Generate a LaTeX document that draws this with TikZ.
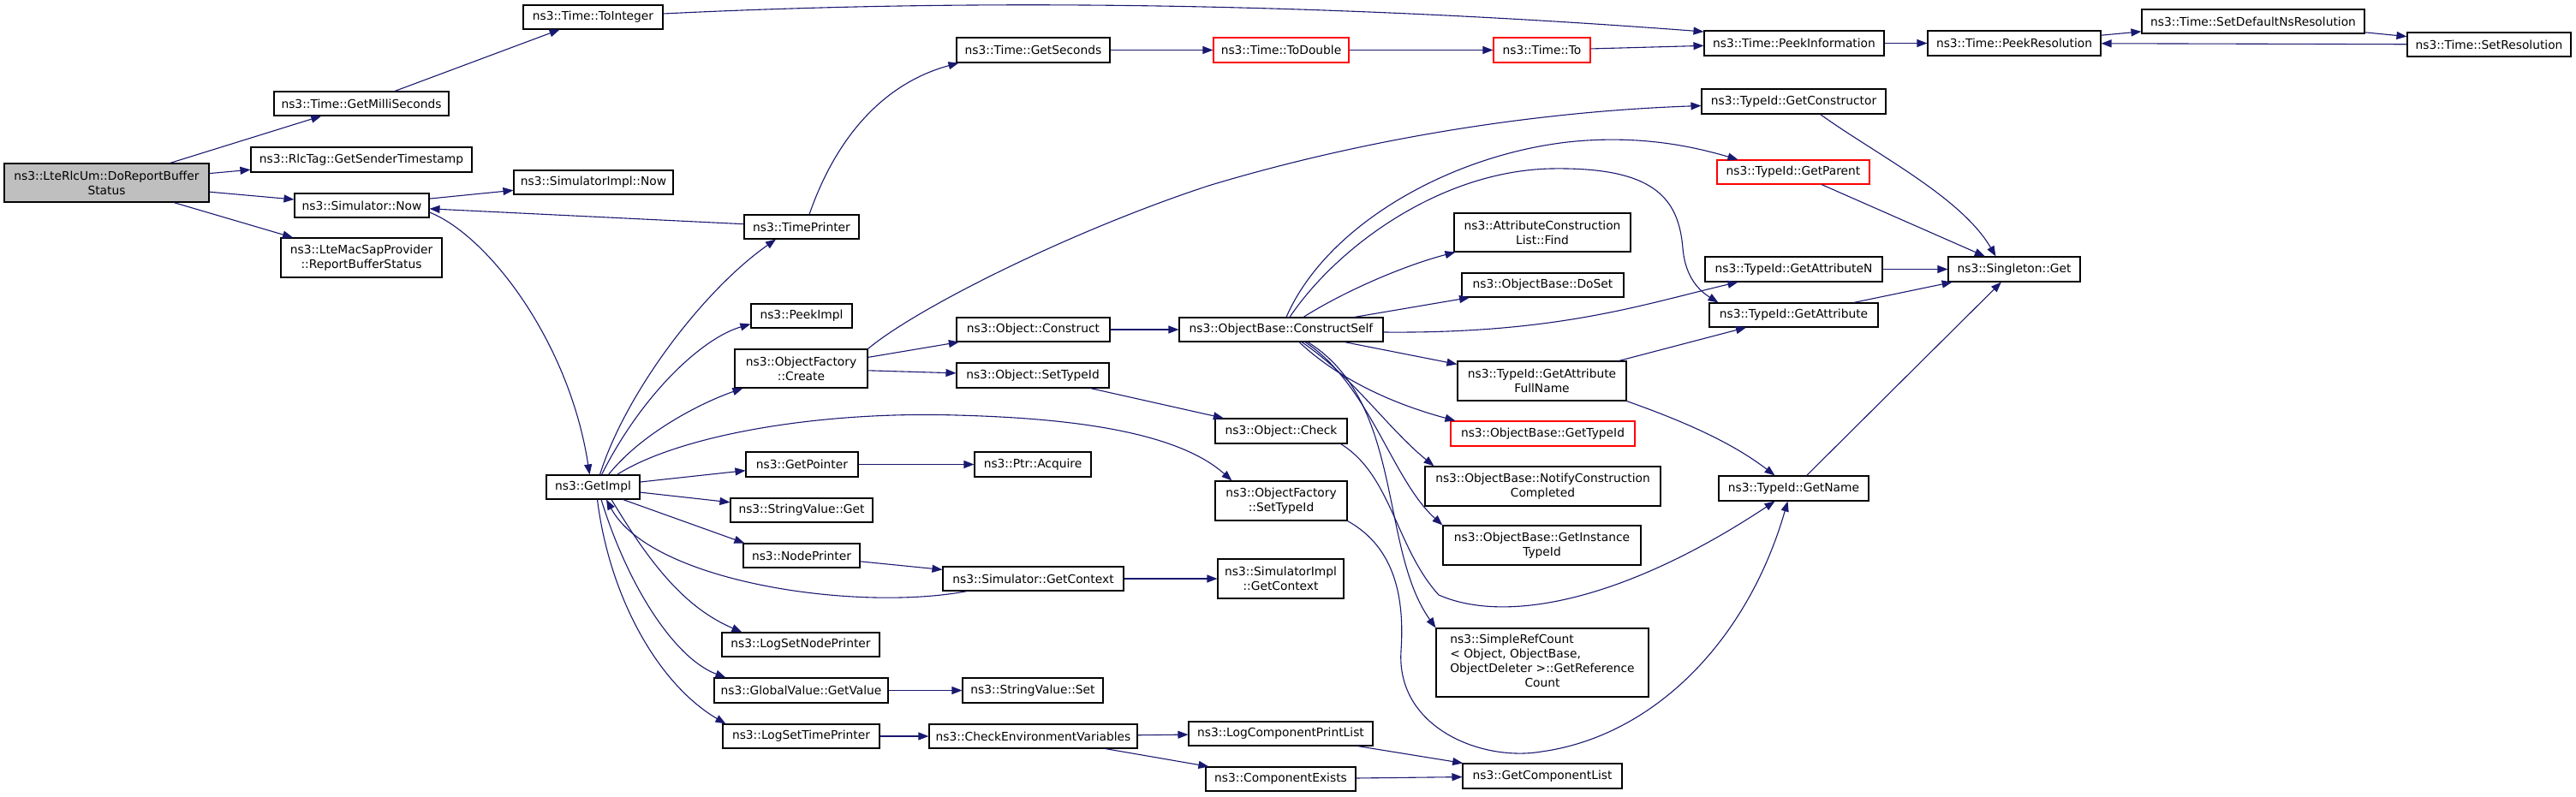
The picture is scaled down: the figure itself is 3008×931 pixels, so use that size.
\documentclass[tikz,border=0pt]{standalone}
\usepackage{fontspec}
\setmainfont{DejaVu Sans}
\usetikzlibrary{arrows.meta,calc}
\definecolor{edgec}{HTML}{191970}
\definecolor{grayfill}{HTML}{BFBFBF}
\begin{document}
\begin{tikzpicture}[x=1pt,y=-1pt,
  box/.style={draw=black,line width=1.1pt,inner sep=0pt,align=center,font=\fontsize{13.8}{17}\selectfont},
  redbox/.style={box,draw=red},
  wh/.style 2 args={minimum width=#1pt,minimum height=#2pt},
  e/.style={draw=edgec,line width=1.1pt,-{Triangle[length=12pt,width=9pt]}}]
\useasboundingbox (0,0) rectangle (3008,931);
% nodes
\node[box,fill=grayfill,wh={239}{45}] (dorep) at (124.5,213.5) {ns3::LteRlcUm::DoReportBuffer\\Status};
\node[box,wh={204}{28}] (getms) at (422,121) {ns3::Time::GetMilliSeconds};
\node[box,wh={163}{28}] (toint) at (692.5,20) {ns3::Time::ToInteger};
\node[box,wh={258}{29}] (rlctag) at (422,186.5) {ns3::RlcTag::GetSenderTimestamp};
\node[box,wh={186}{28}] (simimplnow) at (693,213) {ns3::SimulatorImpl::Now};
\node[box,wh={157}{28}] (simnow) at (422.5,240) {ns3::Simulator::Now};
\node[box,wh={188}{46}] (lmsp) at (422,301) {ns3::LteMacSapProvider\\::ReportBufferStatus};
\node[box,wh={134}{28}] (timeprinter) at (936,265) {ns3::TimePrinter};
\node[box,wh={118}{28}] (peekimpl) at (936,369) {ns3::PeekImpl};
\node[box,wh={155}{45}] (create) at (935.5,430.5) {ns3::ObjectFactory\\::Create};
\node[box,wh={109}{28}] (getimpl) at (692.5,569) {ns3::GetImpl};
\node[box,wh={131}{29}] (getpointer) at (936.5,542.5) {ns3::GetPointer};
\node[box,wh={166}{28}] (strget) at (936,596) {ns3::StringValue::Get};
\node[box,wh={136}{28}] (nodeprinter) at (936,649) {ns3::NodePrinter};
\node[box,wh={184}{28}] (logsetnode) at (935,753) {ns3::LogSetNodePrinter};
\node[box,wh={203}{29}] (gvget) at (935.5,806.5) {ns3::GlobalValue::GetValue};
\node[box,wh={183}{28}] (logsettime) at (935.5,860) {ns3::LogSetTimePrinter};
\node[box,wh={179}{29}] (getseconds) at (1206.5,58.5) {ns3::Time::GetSeconds};
\node[redbox,wh={158}{29}] (todouble) at (1496,58.5) {ns3::Time::ToDouble};
\node[redbox,wh={113}{29}] (to) at (1800.5,58.5) {ns3::Time::To};
\node[box,wh={179}{28}] (construct) at (1206.5,385) {ns3::Object::Construct};
\node[box,wh={178}{29}] (settypeid) at (1206,438.5) {ns3::Object::SetTypeId};
\node[box,wh={136}{29}] (ptracq) at (1206,542.5) {ns3::Ptr::Acquire};
\node[box,wh={211}{28}] (simgetctx) at (1206.5,676) {ns3::Simulator::GetContext};
\node[box,wh={164}{29}] (strset) at (1206,806.5) {ns3::StringValue::Set};
\node[box,wh={243}{28}] (checkenv) at (1206.5,860) {ns3::CheckEnvironmentVariables};
\node[box,wh={238}{28}] (constructself) at (1496,385) {ns3::ObjectBase::ConstructSelf};
\node[box,wh={154}{29}] (check) at (1496,503.5) {ns3::Object::Check};
\node[box,wh={154}{46}] (ofsettypeid) at (1496,585) {ns3::ObjectFactory\\::SetTypeId};
\node[box,wh={147}{46}] (simimplctx) at (1495.5,676) {ns3::SimulatorImpl\\::GetContext};
\node[box,wh={215}{28}] (logcpl) at (1495.5,857) {ns3::LogComponentPrintList};
\node[box,wh={175}{28}] (compexists) at (1495.5,910) {ns3::ComponentExists};
\node[box,wh={206}{45}] (find) at (1801,271.5) {ns3::AttributeConstruction\\List::Find};
\node[box,wh={189}{28}] (doset) at (1801.5,333) {ns3::ObjectBase::DoSet};
\node[box,wh={197}{46}] (getattrfull) at (1800.5,445) {ns3::TypeId::GetAttribute\\FullName};
\node[redbox,wh={215}{29}] (obgettypeid) at (1801.5,506.5) {ns3::ObjectBase::GetTypeId};
\node[box,wh={275}{46}] (notify) at (1801.5,568) {ns3::ObjectBase::NotifyConstruction\\Completed};
\node[box,wh={231}{46}] (getinst) at (1800.5,637) {ns3::ObjectBase::GetInstance\\TypeId};
\node[box,wh={248}{80}] (simpleref) at (1801,774) {\begin{tabular}{@{}l@{}}ns3::SimpleRefCount\\< Object, ObjectBase,\\\multicolumn{1}{@{}c@{}}{ObjectDeleter >::GetReference}\\\multicolumn{1}{@{}c@{}}{Count}\end{tabular}};
\node[box,wh={186}{29}] (getcomplist) at (1801,906.5) {ns3::GetComponentList};
\node[box,wh={210}{29}] (peekinfo) at (2095,50.5) {ns3::Time::PeekInformation};
\node[box,wh={215}{29}] (getctor) at (2094.5,118.5) {ns3::TypeId::GetConstructor};
\node[redbox,wh={178}{28}] (getparent) at (2094,201) {ns3::TypeId::GetParent};
\node[box,wh={207}{29}] (getattrn) at (2094.5,314.5) {ns3::TypeId::GetAttributeN};
\node[box,wh={197}{28}] (getattr) at (2094.5,368) {ns3::TypeId::GetAttribute};
\node[box,wh={175}{29}] (getname) at (2094.5,570.5) {ns3::TypeId::GetName};
\node[box,wh={202}{29}] (peekres) at (2352,50.5) {ns3::Time::PeekResolution};
\node[box,wh={154}{29}] (singleton) at (2352,314.5) {ns3::Singleton::Get};
\node[box,wh={260}{28}] (setdefns) at (2631,25) {ns3::Time::SetDefaultNsResolution};
\node[box,wh={191}{28}] (setres) at (2906.5,52) {ns3::Time::SetResolution};
% straight edges
\draw[e] (dorep) -- (getms);
\draw[e] (dorep) -- (rlctag);
\draw[e] (dorep) -- (simnow);
\draw[e] (dorep) -- (lmsp);
\draw[e] (getms) -- (toint);
\draw[e] (simnow) -- (simimplnow);
\draw[e] (timeprinter) -- (simnow);
\draw[e] (getimpl) -- (getpointer);
\draw[e] (getimpl) -- (strget);
\draw[e] ($(getimpl.south)+(35,0)$) -- ($(nodeprinter.north west)+(2,0)$);
\draw[e] (nodeprinter) -- (simgetctx);
\draw[e] (simgetctx) -- (simimplctx);
\draw[e] (getpointer) -- (ptracq);
\draw[e] (gvget) -- (strset);
\draw[e] (logsettime) -- (checkenv);
\draw[e] (checkenv) -- (logcpl);
\draw[e] (checkenv) -- (compexists);
\draw[e] (logcpl) -- (getcomplist);
\draw[e] (compexists) -- (getcomplist);
\draw[e] (getseconds) -- (todouble);
\draw[e] (todouble) -- (to);
\draw[e] (to) -- (peekinfo);
\draw[e] (peekinfo) -- (peekres);
\draw[e] (peekres) -- (setdefns);
\draw[e] (setdefns) -- (setres);
\draw[e] (setres) -- (peekres);
\draw[e] (create) -- (construct);
\draw[e] (create) -- (settypeid);
\draw[e] (construct) -- (constructself);
\draw[e] (settypeid) -- (check);
\draw[e] (constructself) -- (doset);
\draw[e] (constructself) -- (getattrfull);
\draw[e] (getattrfull) -- (getattr);
\draw[e] (getparent) -- (singleton);
\draw[e] (getattrn) -- (singleton);
\draw[e] (getattr) -- (singleton);
\draw[e] (getname) -- (singleton);
% curved edges
\draw[e] ($(simnow.east)+(0,8)$) .. controls (570,275) and (665,400) .. ($(getimpl.north)+(-4,0)$);
\draw[e] ($(getimpl.north)+(8,0)$) .. controls (730,460) and (820,340) .. ($(timeprinter.south)+(-30,0)$);
\draw[e] ($(getimpl.north)+(10,0)$) .. controls (750,460) and (820,395) .. ($(peekimpl.south west)+(0,-5)$);
\draw[e] ($(getimpl.north)+(18,0)$) .. controls (750,505) and (820,470) .. ($(create.south west)+(10,0)$);
\draw[e] ($(getimpl.north)+(28,0)$) .. controls (790,510) and (950,480) .. (1117,485) .. controls (1230,488) and (1370,500) .. ($(ofsettypeid.north west)+(20,0)$);
\draw[e] ($(simgetctx.south west)+(29,0)$) .. controls (1000,715) and (760,680) .. ($(getimpl.south)+(15.5,0)$);
\draw[e] ($(getimpl.south)+(21.5,0)$) .. controls (760,660) and (800,710) .. ($(logsetnode.north west)+(24,0)$);
\draw[e] ($(getimpl.south)+(9.5,0)$) .. controls (735,690) and (790,770) .. ($(gvget.north west)+(14,0)$);
\draw[e] ($(getimpl.south)+(5,0)$) .. controls (712,700) and (770,800) .. ($(logsettime.north west)+(4,0)$);
\draw[e] ($(timeprinter.north)+(9,0)$) .. controls (980,150) and (1040,95) .. ($(getseconds.south west)+(3,0)$);
\draw[e] ($(toint.east)+(0,-4)$) .. controls (1100,0) and (1500,0) .. ($(peekinfo.west)+(0,-13.5)$);
\draw[e] (create.north east) .. controls (1070,360) and (1250,270) .. (1411,217) .. controls (1600,160) and (1800,130) .. ($(getctor.west)+(0,5)$);
\draw[e] ($(check.south east)+(-8,0)$) .. controls (1625,555) and (1630,640) .. (1680,695) .. controls (1760,730) and (1900,700) .. ($(getname.south)+(-22,0)$);
\draw[e] (ofsettypeid.south east) .. controls (1630,640) and (1640,700) .. (1636,760) .. controls (1630,850) and (1730,890) .. (1800,878) .. controls (1930,860) and (2040,750) .. ($(getname.south)+(-7,0)$);
\draw[e] ($(constructself.north)+(26,0)$) .. controls (1570,340) and (1640,310) .. ($(find.south west)+(2,0)$);
\draw[e] ($(constructself.east)+(0,3)$) .. controls (1820,390) and (1920,355) .. ($(getattrn.south west)+(39,0)$);
\draw[e] ($(constructself.north)+(10,0)$) .. controls (1560,290) and (1680,200) .. (1811,197) .. controls (1930,195) and (1960,230) .. (1965,290) .. controls (1968,325) and (1985,340) .. ($(getattr.north west)+(11,0)$);
\draw[e] ($(constructself.north)+(6,0)$) .. controls (1550,260) and (1700,178) .. (1840,165) .. controls (1920,158) and (1980,172) .. ($(getparent.north west)+(25,0)$);
\draw[e] ($(constructself.south)+(21,0)$) .. controls (1560,440) and (1620,470) .. ($(obgettypeid.north west)+(6,0)$);
\draw[e] ($(constructself.south)+(24,0)$) .. controls (1580,440) and (1620,500) .. ($(notify.north west)+(11,0)$);
\draw[e] ($(constructself.south)+(28,0)$) .. controls (1600,450) and (1625,560) .. (getinst.north west);
\draw[e] ($(constructself.south)+(31,0)$) .. controls (1640,470) and (1610,640) .. (simpleref.north west);
\draw[e] (getattrfull.south east) .. controls (1960,490) and (2020,515) .. ($(getname.north)+(-22,0)$);
\draw[e] ($(getctor.south)+(31,0)$) .. controls (2190,180) and (2290,230) .. ($(singleton.north west)+(56,0)$);
\end{tikzpicture}
\end{document}
